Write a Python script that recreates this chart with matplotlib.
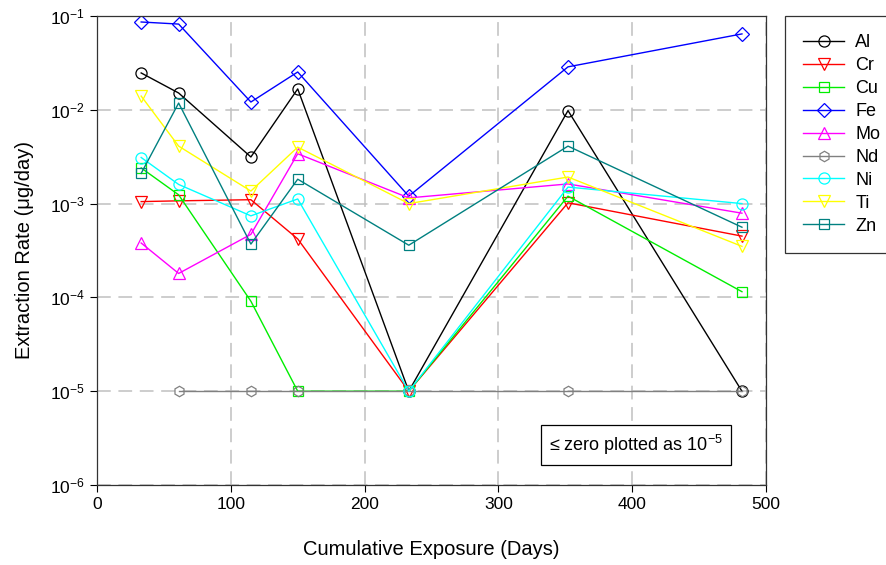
import numpy as np
from matplotlib import pyplot as plt

plt.rcParams['font.family'] = ['Liberation Sans', 'DejaVu Sans']
plt.rcParams['mathtext.fontset'] = 'custom'
plt.rcParams['mathtext.rm'] = 'Liberation Sans'
plt.rcParams['mathtext.it'] = 'Liberation Sans:italic'

# exposure days
days = [33, 61, 115, 150, 233, 352, 482]

al = [0.0247, 0.0151, 0.00314, 0.0167, 1e-5, 0.0098, 1e-5]
cr = [1.05e-3, 1.07e-3, 1.1e-3, 4.2e-4, 1e-5, 1.02e-3, 4.5e-4]
cu = [2.4e-3, 1.24e-3, 9.1e-5, 1e-5, 1e-5, 1.2e-3, 1.15e-4]
fe = [0.0863, 0.082, 0.0121, 0.0253, 1.2e-3, 0.0287, 0.0644]
mo = [3.8e-4, 1.8e-4, 4.7e-4, 3.4e-3, 1.15e-3, 1.62e-3, 7.9e-4]
nd = [np.nan, 1e-5, 1e-5, 1e-5, 1e-5, 1e-5, 1e-5]
ni = [3.1e-3, 1.6e-3, 7.4e-4, 1.12e-3, 1e-5, 1.5e-3, 1.0e-3]
ti = [0.014, 4.1e-3, 1.36e-3, 4.0e-3, 1.0e-3, 1.92e-3, 3.5e-4]
zn = [2.1e-3, 0.0118, 3.7e-4, 1.82e-3, 3.6e-4, 4.1e-3, 5.6e-4]

names = ['Al', 'Cr', 'Cu', 'Fe', 'Mo', 'Nd', 'Ni', 'Ti', 'Zn']
series = [al, cr, cu, fe, mo, nd, ni, ti, zn]
colors = ['black', 'red', '#00ee00', 'blue', 'magenta', 'gray', 'cyan', 'yellow', 'teal']
markers = ['o', 'v', 's', 'D', '^', 'h', 'o', 'v', 's']
msizes = [8, 8, 7.5, 7, 8, 7.5, 8, 8, 7.5]

fig = plt.figure(figsize=(8.86, 5.65), dpi=100)
ax = fig.add_axes([0.1095, 0.1416, 0.7551, 0.8301])

for name, vals, c, m, ms in zip(names, series, colors, markers, msizes):
    ax.plot(days, vals, color=c, marker=m, markersize=ms, markerfacecolor='none',
            markeredgecolor=c, markeredgewidth=0.9, linewidth=1.0, label=name)

ax.set_yscale('log')
ax.set_xlim(0, 500)
ax.set_ylim(1e-6, 1e-1)
ax.set_xticks([0, 100, 200, 300, 400, 500])
ax.minorticks_off()
ax.tick_params(labelsize=12.5, direction='out', length=5, width=0.8)
ax.grid(True, color='#c0c0c0', linestyle=(0, (9, 5)), linewidth=1.1)
ax.set_axisbelow(True)
for s in ax.spines.values():
    s.set_linewidth(0.9)
    s.set_color('#333333')

ax.set_xlabel('Cumulative Exposure (Days)', fontsize=14.5, labelpad=20)
ax.set_ylabel('Extraction Rate (\u03bcg/day)', fontsize=14.5, labelpad=12)

ax.text(0.806, 0.085, '\u2264 zero plotted as 10$^{-5}$', transform=ax.transAxes,
        fontsize=13, ha='center', va='center',
        bbox=dict(boxstyle='square,pad=0.45', facecolor='white', edgecolor='black', linewidth=0.9))

leg = ax.legend(loc='upper left', bbox_to_anchor=(1.028, 1.0), fontsize=13, frameon=True,
                fancybox=False, edgecolor='black', handlelength=2.3, labelspacing=0.33,
                borderpad=1.0, handletextpad=0.6, borderaxespad=0)
leg.get_frame().set_linewidth(0.9)

fig.savefig('out.png', dpi=100)
